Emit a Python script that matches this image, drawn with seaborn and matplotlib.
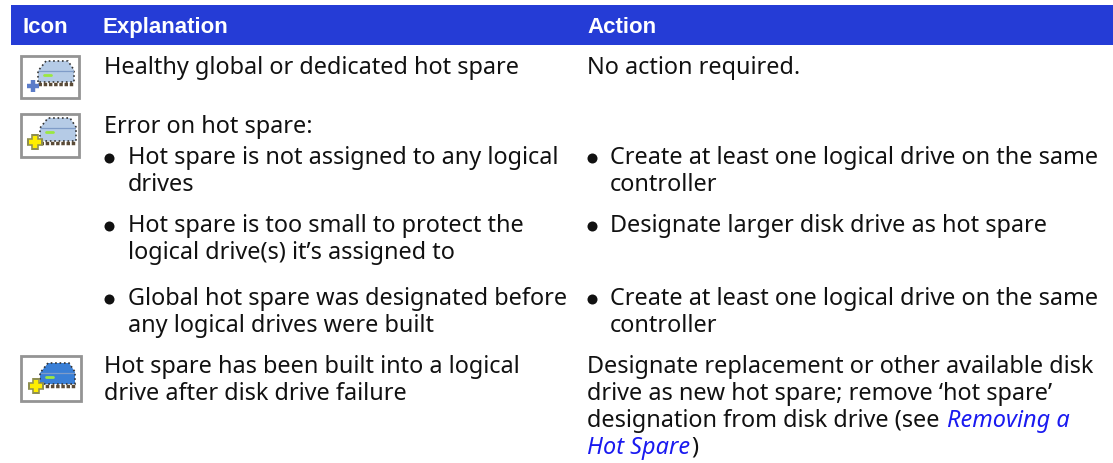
import matplotlib
matplotlib.use("Agg")
import matplotlib.pyplot as plt
from matplotlib.patches import Rectangle, Polygon
import seaborn as sns

# Textos da tabela
headers = ["Icon", "Explanation", "Action"]
col_explanation = [
    "Healthy global or dedicated hot spare",
    "Error on hot spare:",
    "Hot spare is not assigned to any logical\ndrives",
    "Hot spare is too small to protect the\nlogical drive(s) it\u2019s assigned to",
    "Global hot spare was designated before\nany logical drives were built",
    "Hot spare has been built into a logical\ndrive after disk drive failure",
]
col_action = [
    "No action required.",
    "",
    "Create at least one logical drive on the same\ncontroller",
    "Designate larger disk drive as hot spare",
    "Create at least one logical drive on the same\ncontroller",
    "Designate replacement or other available disk\ndrive as new hot spare; remove \u2018hot spare\u2019\ndesignation from disk drive (see ",
]
link_text = ["Removing a", "Hot Spare"]
row_bullets = [False, False, True, True, True, False]

# Configurações de estilo
sns.set_theme(style="white")
plt.rcParams["font.family"] = ["Noto Sans", "DejaVu Sans"]

fig = plt.figure(figsize=(11.13, 4.64), dpi=100)
ax = fig.add_axes([0, 0, 1, 1])

blue = "#253cd6"
ink = "#111111"
fs = 16.9
line_h = 27
row_y = [74, 133, 164, 232, 305, 373]

ax.add_patch(Rectangle((11, 6), 1102, 40, color=blue, lw=0))
for label, x in zip(headers, [22, 103, 587]):
    ax.text(x, 33, label, color="white", fontsize=16, fontweight="bold", va="baseline",
            family="Liberation Sans")


def draw_lines(text, x, y):
    last = None
    for i, line in enumerate(text.split("\n")):
        last = ax.text(x, y + i * line_h, line, fontsize=fs, color=ink, va="baseline")
    return last


def draw_icon(x0, y0, w, h, body, plus, edge, fill, box):
    # box = esquerda, direita, topo, fundo do disco; plus = centro da cruz
    left, right, top, bottom = box
    ax.add_patch(Rectangle((x0, y0), w, h, fc="white", ec="#949494", lw=2))
    pts = [(left, bottom), (left, top + 10), (left + 8, top), (right - 6, top),
           (right, top + 9), (right, bottom)]
    ax.add_patch(Polygon(pts, fc=body, ec="#333333", lw=1.2, ls=":"))
    ax.plot([left + 1, right - 1], [top + 10, top + 10], color="#7f9cc8", lw=0.9)
    ax.plot([left + 6, left + 13], [top + 14, top + 14], color="#9be840", lw=2)
    ax.plot([left, right], [bottom + 1.5, bottom + 1.5], color="#5a4a36", lw=2.5, ls=(0, (1, 0.5)))
    cx, cy = plus
    if edge != fill:
        for dx, dy in [(1, 0), (0, 1)]:
            ax.plot([cx - 8 * dx, cx + 8 * dx], [cy - 8 * dy, cy + 8 * dy], color=edge, lw=5.5,
                    solid_capstyle="butt", zorder=4)
    for dx, dy in [(1, 0), (0, 1)]:
        ax.plot([cx - 6 * dx, cx + 6 * dx], [cy - 6 * dy, cy + 6 * dy], color=fill, lw=3.2,
                solid_capstyle="butt", zorder=5)


bullet_x = []
bullet_y = []
for i in range(len(col_explanation)):
    if row_bullets[i]:
        bullet_x += [109, 592]
        bullet_y += [row_y[i] - 5, row_y[i] - 5]
        draw_lines(col_explanation[i], 128, row_y[i])
        draw_lines(col_action[i], 610, row_y[i])
    else:
        draw_lines(col_explanation[i], 104, row_y[i])
        last = draw_lines(col_action[i], 587, row_y[i])

sns.scatterplot(x=bullet_x, y=bullet_y, ax=ax, color=ink, s=52, linewidth=0, zorder=3)

ax.set_xlim(0, 1113)
ax.set_ylim(464, 0)
ax.axis("off")

# Link no fim da última linha, logo a seguir ao texto
link_color = "#1a1af0"
renderer = fig.canvas.get_renderer()
inv = ax.transData.inverted()
x_end = inv.transform(last.get_window_extent(renderer))[1][0]
ax.text(x_end + 1, row_y[5] + 2 * line_h, link_text[0], fontsize=fs, style="italic", color=link_color, va="baseline")
t_link = ax.text(587, row_y[5] + 3 * line_h, link_text[1], fontsize=fs, style="italic", color=link_color, va="baseline")
x_end = inv.transform(t_link.get_window_extent(renderer))[1][0]
ax.text(x_end + 1, row_y[5] + 3 * line_h, ")", fontsize=fs, color=ink, va="baseline")

draw_icon(21, 57, 58, 42, "#b5cbe6", (33, 87), "#5b7cc8", "#5b7cc8", (38, 74, 62, 83))
draw_icon(21, 115, 58, 43, "#b5cbe6", (35, 143), "#8f8f50", "#ffee00", (40, 76, 119, 142))
draw_icon(21, 357, 60, 45, "#3a7fd6", (36, 387), "#8f8f50", "#ffee00", (40, 75, 364, 385))

fig.savefig("out.png", dpi=100)
